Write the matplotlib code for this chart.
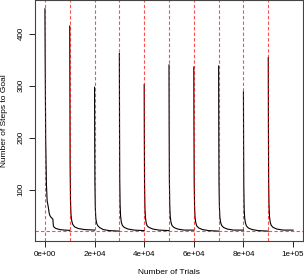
import matplotlib
matplotlib.use("Agg")
import matplotlib.pyplot as plt

# -----------------------------
# Data
# -----------------------------
run_starts = [0, 10000, 20000, 30000, 40000, 50000, 60000, 70000, 80000, 90000]

# trial offsets within a run, shared by runs 2-10
offsets = [0, 60, 150, 300, 500, 800, 1200, 2000, 3500, 6000, 9999]

# steps-to-goal per run at those offsets
run_steps = [
    [415, 300, 150, 80, 52, 40, 33, 28, 25, 23, 22],
    [297, 200, 110, 65, 45, 36, 31, 27, 23, 21, 20],
    [362, 230, 120, 70, 48, 37, 31, 27, 24, 22, 21],
    [302, 200, 110, 65, 46, 36, 30, 27, 24, 22, 21],
    [340, 220, 120, 70, 48, 37, 31, 27, 24, 22, 22],
    [336, 220, 115, 68, 46, 36, 30, 26, 23, 21, 20],
    [338, 220, 115, 68, 47, 37, 31, 27, 24, 22, 22],
    [288, 190, 105, 62, 45, 36, 30, 26, 23, 21, 20],
    [354, 230, 120, 70, 48, 37, 31, 27, 24, 22, 22],
]

# the first run decays more slowly, with a shoulder near 45 steps
first_offsets = [0, 100, 300, 600, 900, 1300, 1700, 2000, 2400, 2800, 3200,
                 3400, 3800, 4500, 6000, 8000, 9999]
first_steps = [448, 350, 200, 110, 78, 68, 55, 50, 47, 45, 43,
               30, 27, 25, 23, 22, 21.5]

optimal_steps = 21

x_ticks = [0, 20000, 40000, 60000, 80000, 100000]
x_tick_labels = ["0e+00", "2e+04", "4e+04", "6e+04", "8e+04", "1e+05"]
y_ticks = [100, 200, 300, 400]

# -----------------------------
# Plot
# -----------------------------
plt.rcParams["font.family"] = ["Liberation Sans", "DejaVu Sans"]

fig = plt.figure(figsize=(3.04, 2.77), dpi=100)
ax = fig.add_axes([35 / 304, 36 / 277, 268 / 304, 241 / 277])

ax.plot([run_starts[0] + o for o in first_offsets], first_steps,
        color="black", lw=0.8)
for start, steps in zip(run_starts[1:], run_steps):
    ax.plot([start + o for o in offsets], steps, color="black", lw=0.8)

red_dash = dict(color="red", ls=(0, (3, 2)), lw=0.8, alpha=0.7)
for start in run_starts:
    ax.axvline(start, **red_dash)
ax.axhline(optimal_steps, **red_dash)

ax.set_xlim(-4000, 104000)
ax.set_ylim(1, 465)

ax.set_xticks(x_ticks)
ax.set_xticklabels(x_tick_labels)
ax.set_yticks(y_ticks)
ax.set_yticklabels([str(v) for v in y_ticks], rotation=90, va="center")

ax.tick_params(direction="out", length=4, width=0.6, labelsize=5.8, pad=3.5)
for spine in ax.spines.values():
    spine.set_linewidth(0.8)
    spine.set_color("#444444")

ax.set_xlabel("Number of Trials", fontsize=6, labelpad=7.5)
ax.set_ylabel("Number of Steps to Goal", fontsize=6, labelpad=7)

fig.savefig("out.png", dpi=100)
